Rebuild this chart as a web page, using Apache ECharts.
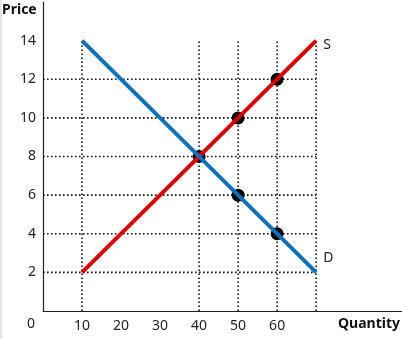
<!DOCTYPE html>
<html>
<head>
<meta charset="utf-8">
<script src="https://cdn.jsdelivr.net/npm/echarts@6/dist/echarts.min.js"></script>
<style>
  html, body { margin: 0; padding: 0; background: #fff; }
  #chart { width: 402px; height: 339px; }
</style>
</head>
<body>
<div id="chart"></div>
<script>
// data
const xTicks = [10, 20, 30, 40, 50, 60]
const yTicks = [2, 4, 6, 8, 10, 12, 14]
const supply = [[10, 2], [70, 14]]
const demand = [[10, 14], [70, 2]]
const points = [[40, 8], [50, 10], [60, 12], [50, 6], [60, 4]]
const guideY = [2, 4, 6, 8, 10, 12]   // dotted horizontals, from 0 to 70
const guideX = [10, 40, 50, 60, 70]   // dotted verticals, from 0 to 14

const font = 'Noto Sans'
const dotted = { color: '#111', width: 1.6, type: [1.6, 2.4] }

const chart = echarts.init(document.getElementById('chart'), null, { renderer: 'canvas' })

let guides = []
guideY.forEach(y => {
  guides.push({ type: 'line', silent: true, symbol: 'none', lineStyle: dotted, data: [[0, y], [70, y]] })
})
guideX.forEach(x => {
  guides.push({ type: 'line', silent: true, symbol: 'none', lineStyle: dotted, data: [[x, 0], [x, 14]] })
})

const option = {
  animation: false,
  grid: { left: 43, top: 2, right: 0, bottom: 28, containLabel: false, outerBoundsMode: 'none' },
  xAxis: {
    type: 'value', min: 0, max: 92, interval: 10,
    axisLine: { show: true, lineStyle: { color: '#222', width: 1.2 } },
    axisTick: { show: false },
    splitLine: { show: false },
    axisLabel: {
      margin: 8, color: '#222', fontFamily: font, fontSize: 14,
      formatter: v => xTicks.includes(v) ? String(v) : ''
    }
  },
  yAxis: {
    type: 'value', min: 0, max: 16, interval: 2,
    axisLine: { show: true, lineStyle: { color: '#222', width: 1.2 } },
    axisTick: { show: false },
    splitLine: { show: false },
    axisLabel: {
      margin: 7, color: '#222', fontFamily: font, fontSize: 14,
      formatter: v => yTicks.includes(v) ? String(v) : ''
    }
  },
  graphic: [
    { type: 'rect', left: 0, top: 0, shape: { width: 2, height: 339 }, style: { fill: '#e4e4e4' } },
    { type: 'text', left: 2, top: 3, style: { text: 'Price', fontFamily: font, fontWeight: 'bold', fontSize: 14, fill: '#111' } },
    { type: 'text', right: 2, top: 317, style: { text: 'Quantity', fontFamily: font, fontWeight: 'bold', fontSize: 14, fill: '#111' } },
    { type: 'text', left: 27, top: 317, style: { text: '0', fontFamily: font, fontSize: 14, fill: '#222' } }
  ],
  series: guides.concat([
    {
      type: 'line', silent: true, symbol: 'none', data: supply,
      lineStyle: { color: '#e00000', width: 4 },
      endLabel: { show: true, formatter: 'S', color: '#222', fontFamily: font, fontSize: 14, offset: [-1, 4] }
    },
    {
      type: 'line', silent: true, symbol: 'none', data: demand,
      lineStyle: { color: '#0b72c2', width: 4 },
      endLabel: { show: true, formatter: 'D', color: '#222', fontFamily: font, fontSize: 14, offset: [-1, -14] }
    },
    {
      type: 'scatter', silent: true, symbolSize: 13, data: points,
      itemStyle: { color: '#000', opacity: 1 }
    }
  ])
}

chart.setOption(option)
</script>
</body>
</html>
